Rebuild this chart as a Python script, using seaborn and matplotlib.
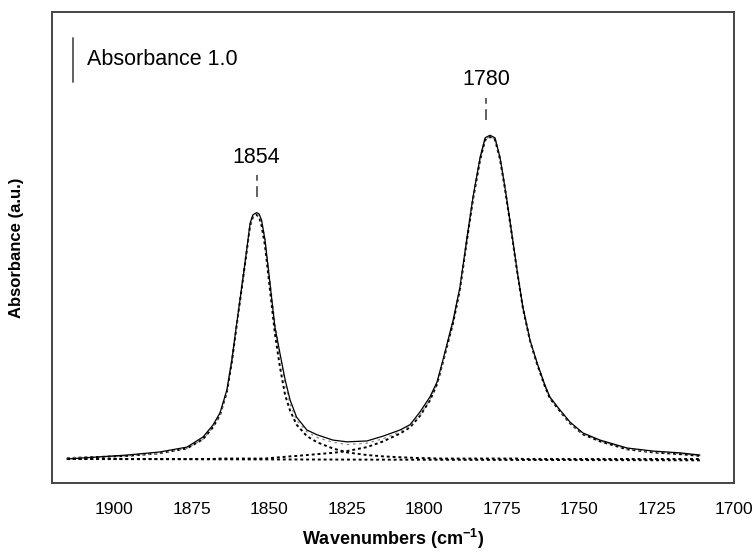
import numpy as np
import pandas as pd
import seaborn as sns
import matplotlib
matplotlib.use("Agg")
import matplotlib.pyplot as plt
from matplotlib import font_manager as fm

# values (absorbance, baseline = 0)
wavenumbers = [1915.2, 1895.8, 1885.2, 1876.5, 1871.3, 1868.1, 1865.8, 1863.6, 1862.0, 1860.4,
               1858.8, 1857.2, 1856.1, 1855.2, 1854.0, 1853.2, 1852.4, 1851.3, 1849.7, 1848.1,
               1846.5, 1844.8, 1843.2, 1841.1, 1837.8, 1834.5, 1829.4, 1824.8, 1818.4, 1813.2,
               1807.7, 1804.5, 1801.3, 1798.1, 1795.8, 1793.9, 1790.6, 1788.4, 1786.1, 1784.2,
               1781.9, 1780.3, 1778.7, 1777.1, 1775.5, 1773.9, 1772.3, 1770.0, 1768.1, 1765.8,
               1763.5, 1761.0, 1759.4, 1756.1, 1752.9, 1748.7, 1743.2, 1734.5, 1726.1, 1717.4,
               1711.0]

measured = [0.00, 0.09, 0.16, 0.27, 0.50, 0.77, 1.05, 1.57, 2.25, 3.09,
            3.91, 4.75, 5.36, 5.55, 5.60, 5.57, 5.43, 4.98, 4.00, 3.00,
            2.41, 1.80, 1.34, 0.95, 0.66, 0.55, 0.43, 0.39, 0.41, 0.52,
            0.66, 0.78, 1.07, 1.41, 1.75, 2.25, 3.16, 3.91, 5.05, 5.95,
            6.86, 7.30, 7.36, 7.30, 6.86, 6.18, 5.43, 4.30, 3.45, 2.70,
            2.18, 1.68, 1.41, 1.11, 0.84, 0.59, 0.43, 0.25, 0.18, 0.14,
            0.09]

fit_sum = [0.02, 0.07, 0.13, 0.24, 0.45, 0.72, 1.01, 1.53, 2.21, 3.06,
           3.89, 4.73, 5.31, 5.51, 5.56, 5.53, 5.40, 5.00, 4.05, 3.10,
           2.40, 1.72, 1.25, 0.88, 0.62, 0.49, 0.38, 0.33, 0.36, 0.46,
           0.62, 0.75, 1.00, 1.35, 1.71, 2.21, 3.11, 3.86, 5.01, 5.91,
           6.81, 7.26, 7.33, 7.27, 6.83, 6.16, 5.41, 4.29, 3.44, 2.69,
           2.16, 1.66, 1.39, 1.09, 0.82, 0.57, 0.41, 0.23, 0.16, 0.12,
           0.08]

band_1854 = [0.02, 0.07, 0.13, 0.24, 0.45, 0.72, 1.00, 1.52, 2.20, 3.05,
             3.88, 4.72, 5.30, 5.50, 5.55, 5.50, 5.30, 4.85, 3.85, 2.85,
             2.10, 1.45, 1.10, 0.78, 0.52, 0.38, 0.24, 0.15, 0.09, 0.06,
             0.04, 0.03, 0.02, 0.02, 0.01, 0.01, 0.01, 0.01, 0.01, 0.01,
             0.01, 0.01, 0.01, 0.01, 0.01, 0.01, 0.01, 0.01, 0.00, 0.00,
             0.00, 0.00, 0.00, 0.00, 0.00, 0.00, 0.00, 0.00, 0.00, 0.00,
             0.00]

band_1780 = [0.00, 0.00, 0.00, 0.00, 0.00, 0.00, 0.01, 0.01, 0.01, 0.01,
             0.01, 0.01, 0.01, 0.01, 0.01, 0.01, 0.01, 0.01, 0.02, 0.03,
             0.04, 0.05, 0.06, 0.07, 0.09, 0.11, 0.14, 0.18, 0.27, 0.40,
             0.58, 0.72, 0.98, 1.33, 1.70, 2.20, 3.10, 3.85, 5.00, 5.90,
             6.80, 7.25, 7.32, 7.26, 6.82, 6.15, 5.40, 4.28, 3.43, 2.68,
             2.15, 1.65, 1.38, 1.08, 0.81, 0.56, 0.40, 0.22, 0.15, 0.11,
             0.07]

baseline_wn = [1915.2, 1711.0]
baseline = [0.0, -0.03]

peak_labels = [1854, 1780]
peak_heights = [5.60, 7.36]

df = pd.DataFrame({"wn": wavenumbers, "measured": measured, "fit": fit_sum,
                   "b1854": band_1854, "b1780": band_1780})

sns.set_style("white")

def has_font(name):
    try:
        fm.findfont(fm.FontProperties(family=name), fallback_to_default=False)
        return True
    except Exception:
        return False

main_font = "Liberation Sans" if has_font("Liberation Sans") else "DejaVu Sans"
plt.rcParams["font.family"] = [main_font, "DejaVu Sans"]
plt.rcParams["text.color"] = "black"
plt.rcParams["axes.labelcolor"] = "black"
plt.rcParams["xtick.color"] = "black"
plt.rcParams["mathtext.fontset"] = "custom"
plt.rcParams["mathtext.rm"] = main_font
plt.rcParams["mathtext.bf"] = main_font + ":bold"

fig = plt.figure(figsize=(7.55, 5.59), dpi=100)
ax = fig.add_axes([0.0689, 0.136, 0.9033, 0.8425])

dots = (0, (1.5, 1.5))
sns.lineplot(x=baseline_wn, y=baseline, ax=ax, color="black", lw=1.4, linestyle=dots)
sns.lineplot(data=df, x="wn", y="b1854", ax=ax, color="black", lw=1.4, linestyle=dots, sort=False)
sns.lineplot(data=df, x="wn", y="b1780", ax=ax, color="black", lw=1.4, linestyle=dots, sort=False)
sns.lineplot(data=df, x="wn", y="fit", ax=ax, color="#8a8a8a", lw=0.9, linestyle=(0, (2, 3)), sort=False)
sns.lineplot(data=df, x="wn", y="measured", ax=ax, color="black", lw=0.9, sort=False)

# peak markers
for pk, h in zip(peak_labels, peak_heights):
    ax.plot([pk, pk], [h + 0.35, h + 0.85], color="#555555", lw=1.3, linestyle=(0, (6, 3)))
    ax.text(pk, h + 1.26, str(pk), ha="center", va="center", fontsize=15.5)

# absorbance scale bar
ax.plot([1913.2, 1913.2], [8.57, 9.57], color="#555555", lw=1.3)
ax.text(1908.7, 9.07, "Absorbance 1.0", ha="left", va="center", fontsize=15.5)

ax.set_xlim(1920, 1700)
ax.set_ylim(-0.545, 10.16)
ax.set_xticks([1900, 1875, 1850, 1825, 1800, 1775, 1750, 1725, 1700])
ax.set_yticks([])
ax.tick_params(axis="x", direction="out", length=5, width=1.2, color="#444444", pad=9,
               labelsize=12.5)

for sp in ax.spines.values():
    sp.set_visible(True)
    sp.set_color("#444444")
    sp.set_linewidth(1.4)

ax.set_xlabel(r"Wavenumbers (cm$^{\mathbf{-1}}$)", fontsize=13, fontweight="bold", labelpad=7)
ax.set_ylabel("Absorbance (a.u.)", fontsize=12, fontweight="bold", labelpad=20)

fig.savefig("out.png", dpi=100)
